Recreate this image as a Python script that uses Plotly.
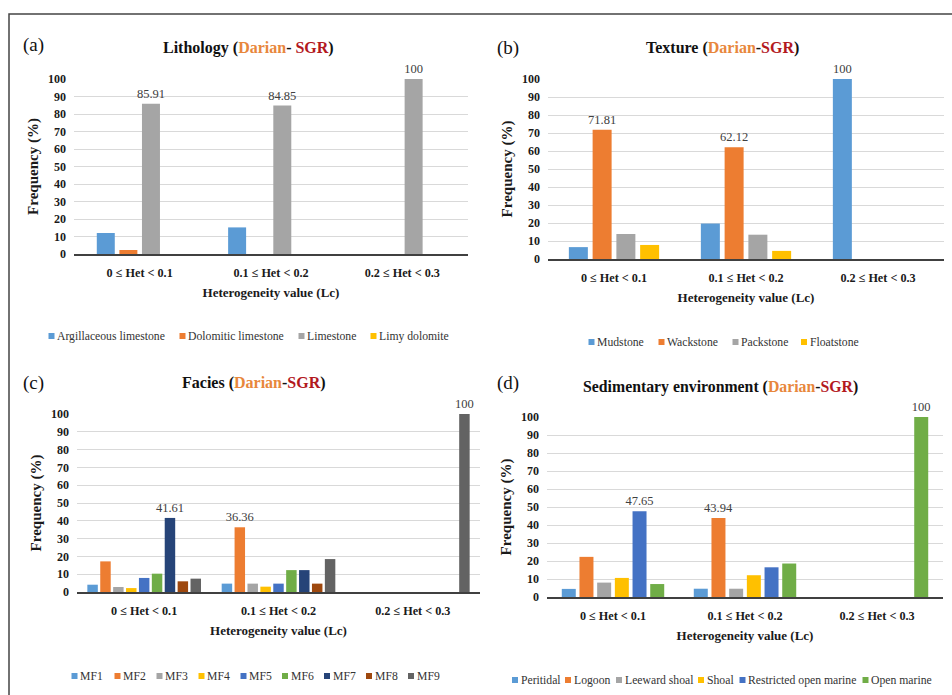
import plotly.graph_objects as go

W, H = 952, 695

categories = ["0 ≤ Het < 0.1", "0.1 ≤ Het < 0.2", "0.2 ≤ Het < 0.3"]

# (a) Lithology
litho_names = ["Argillaceous limestone", "Dolomitic limestone", "Limestone", "Limy dolomite"]
litho_argillaceous = [12.0, 15.2, 0]
litho_dolomitic = [2.3, 0, 0]
litho_limestone = [85.91, 84.85, 100]
litho_limy_dolomite = [0, 0, 0]

# (b) Texture
texture_names = ["Mudstone", "Wackstone", "Packstone", "Floatstone"]
tex_mudstone = [6.6, 19.7, 100]
tex_wackstone = [71.81, 62.12, 0]
tex_packstone = [13.9, 13.5, 0]
tex_floatstone = [7.8, 4.5, 0]

# (c) Facies
facies_names = ["MF1", "MF2", "MF3", "MF4", "MF5", "MF6", "MF7", "MF8", "MF9"]
mf1 = [4.1, 4.7, 0]
mf2 = [17.2, 36.36, 0]
mf3 = [2.8, 4.7, 0]
mf4 = [2.2, 3.0, 0]
mf5 = [7.9, 4.7, 0]
mf6 = [10.3, 12.3, 0]
mf7 = [41.61, 12.3, 0]
mf8 = [6.0, 4.7, 0]
mf9 = [7.5, 18.5, 100]

# (d) Sedimentary environment
env_names = ["Peritidal", "Logoon", "Leeward shoal", "Shoal", "Restricted open marine", "Open marine"]
env_peritidal = [4.5, 4.6, 0]
env_logoon = [22.3, 43.94, 0]
env_leeward = [8.0, 4.6, 0]
env_shoal = [10.6, 12.1, 0]
env_restricted = [47.65, 16.5, 0]
env_open = [7.2, 18.6, 100]

y_ticks = list(range(0, 101, 10))

OFFICE = ["#5B9BD5", "#ED7D31", "#A5A5A5", "#FFC000", "#4472C4",
          "#70AD47", "#264478", "#9E480E", "#636363"]

SERIF = "Liberation Serif"


def px(x):
    return x / W


def py(y):
    return 1 - y / H


# layout (pixel) settings for each panel; legend_sq = x centre of each legend key
panels = [
    dict(letter="(a)", title="Lithology", dash="- ", names=litho_names,
         values=[litho_argillaceous, litho_dolomitic, litho_limestone, litho_limy_dolomite],
         box=(74, 468, 79, 254), slot=0.172, bw=0.137,
         title_xy=(248, 48), letter_xy=(33, 45), title_size=16,
         legend_y=336, legend_sq=[51.5, 182.5, 301.5, 373.5]),
    dict(letter="(b)", title="Texture", dash="-", names=texture_names,
         values=[tex_mudstone, tex_wackstone, tex_packstone, tex_floatstone],
         box=(548, 944, 79, 259), slot=0.18, bw=0.144,
         title_xy=(722, 48), letter_xy=(508, 48), title_size=16,
         legend_y=342, legend_sq=[591.5, 661.5, 735.5, 804]),
    dict(letter="(c)", title="Facies", dash="-", names=facies_names,
         values=[mf1, mf2, mf3, mf4, mf5, mf6, mf7, mf8, mf9],
         box=(77, 480, 414, 592), slot=0.096, bw=0.078,
         title_xy=(254, 383), letter_xy=(33, 383), title_size=16,
         legend_y=676, legend_sq=[74.5, 117.5, 159.5, 201.5, 243.5, 285, 327, 369, 411]),
    dict(letter="(d)", title="Sedimentary environment", dash="-", names=env_names,
         values=[env_peritidal, env_logoon, env_leeward, env_shoal, env_restricted, env_open],
         box=(547, 943, 417, 597), slot=0.134, bw=0.106,
         title_xy=(720, 387), letter_xy=(508, 383), title_size=15.8,
         legend_y=680, legend_sq=[515, 568, 619, 701, 742.5, 865.5]),
]

fig = go.Figure()
annotations = []
shapes = [dict(type="rect", xref="paper", yref="paper",
               x0=px(9), x1=1.05, y0=-0.05, y1=py(14),
               line=dict(color="#444444", width=1.5))]
layout_axes = {}

for p_i, p in enumerate(panels):
    n = len(p["names"])
    sfx = "" if p_i == 0 else str(p_i + 1)
    xa, ya = "x" + sfx, "y" + sfx
    # label the largest bar of each group
    maxima = [max(range(n), key=lambda s: p["values"][s][j]) for j in range(len(categories))]
    for s in range(n):
        vals = p["values"][s]
        texts = [(f"{vals[j]:g}" if maxima[j] == s else "") for j in range(len(categories))]
        center = (s - (n - 1) / 2) * p["slot"]
        fig.add_trace(go.Bar(
            x=categories, y=vals, name=p["names"][s],
            marker=dict(color=OFFICE[s], line=dict(width=0)),
            width=p["bw"], offset=center - p["bw"] / 2,
            text=texts, textposition="outside", cliponaxis=False,
            constraintext="none",
            textfont=dict(family=SERIF, size=12.5, color="#404040"),
            xaxis=xa, yaxis=ya, showlegend=False, hoverinfo="x+y+name",
        ))
        # legend key + label
        cx, cy = p["legend_sq"][s], p["legend_y"]
        shapes.append(dict(type="rect", xref="paper", yref="paper",
                           x0=px(cx - 3), x1=px(cx + 3), y0=py(cy + 3), y1=py(cy - 3),
                           fillcolor=OFFICE[s], line=dict(width=0)))
        annotations.append(dict(
            text=p["names"][s], x=px(cx + 3.5), y=py(cy), xref="paper", yref="paper",
            xanchor="left", yanchor="middle", showarrow=False,
            font=dict(family=SERIF, size=11.7, color="#333333"),
        ))
    x0, x1, y0, y1 = p["box"]
    layout_axes["xaxis" + sfx] = dict(
        domain=[px(x0), px(x1)], anchor=ya, type="category",
        showline=True, linecolor="#404040", linewidth=1.5, ticks="",
        tickfont=dict(family=SERIF, size=12.2, color="#1a1a1a", weight="bold"),
        ticklabelstandoff=7,
        title=dict(text="Heterogeneity value (Lc)", standoff=9,
                   font=dict(family=SERIF, size=13, color="#1a1a1a", weight="bold")),
        showgrid=False, zeroline=False, fixedrange=True,
    )
    layout_axes["yaxis" + sfx] = dict(
        domain=[py(y1), py(y0)], anchor=xa, range=[0, 100],
        tickmode="array", tickvals=y_ticks, ticktext=[str(t) for t in y_ticks],
        showgrid=True, gridcolor="#D9D9D9", gridwidth=1, zeroline=False,
        showline=False, ticks="", ticklabelstandoff=7,
        tickfont=dict(family=SERIF, size=12, color="#1a1a1a", weight="bold"),
        title=dict(text="Frequency (%)", standoff=5,
                   font=dict(family=SERIF, size=15, color="#1a1a1a", weight="bold")),
        fixedrange=True,
    )
    title_html = (f"<b>{p['title']} (<span style='color:#E8873C'>Darian</span>"
                  f"{p['dash']}<span style='color:#B3191E'>SGR</span>)</b>")
    annotations.append(dict(
        text=title_html, x=px(p["title_xy"][0]), y=py(p["title_xy"][1]),
        xref="paper", yref="paper", xanchor="center", yanchor="middle",
        showarrow=False, font=dict(family=SERIF, size=p["title_size"], color="#111111"),
    ))
    annotations.append(dict(
        text=p["letter"], x=px(p["letter_xy"][0]), y=py(p["letter_xy"][1]),
        xref="paper", yref="paper", xanchor="center", yanchor="middle",
        showarrow=False, font=dict(family=SERIF, size=19, color="#111111"),
    ))

fig.update_layout(
    width=W, height=H, margin=dict(l=0, r=0, t=0, b=0, autoexpand=False),
    paper_bgcolor="white", plot_bgcolor="white",
    barmode="overlay", showlegend=False,
    annotations=annotations, shapes=shapes,
    **layout_axes,
)

fig.write_html("out.html", config={"displayModeBar": False},
               post_script="document.body.style.margin='0px';document.body.style.overflow='hidden';")
